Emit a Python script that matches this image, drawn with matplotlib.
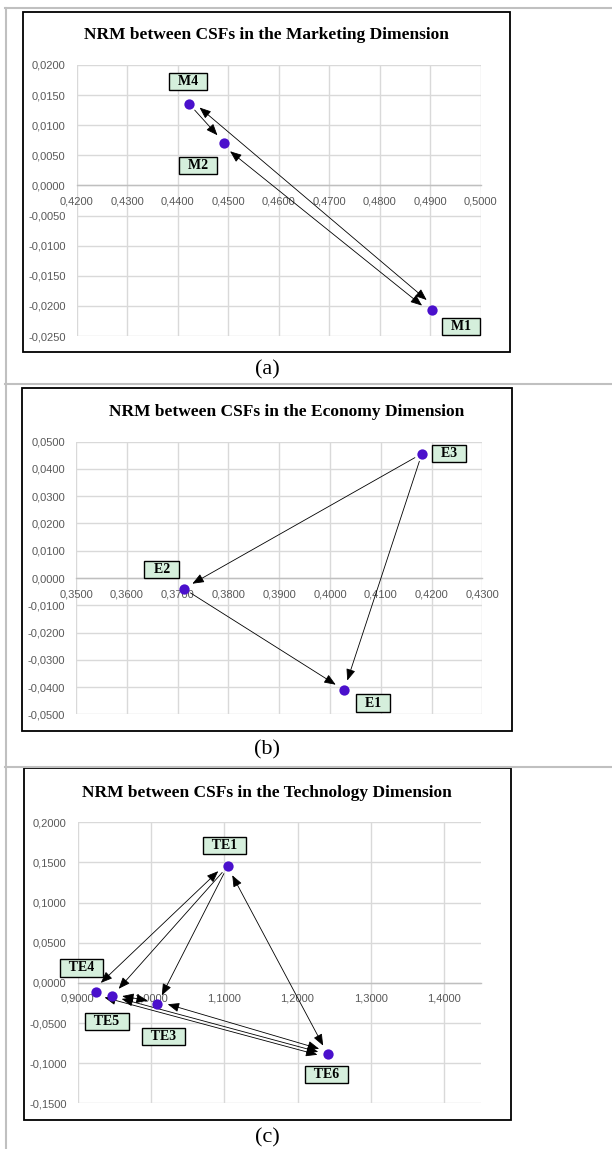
import matplotlib
matplotlib.use('Agg')
import matplotlib.pyplot as plt
from matplotlib.patches import Rectangle, FancyArrowPatch
from matplotlib.lines import Line2D
from matplotlib.ticker import FuncFormatter, MultipleLocator
import numpy as np

# Coordonnées (R-D, D+R) des facteurs critiques pour chaque dimension
m_labels = ['M1', 'M2', 'M4']
m_x = [0.4903, 0.4492, 0.4423]
m_y = [-0.0206, 0.0071, 0.0135]
m_links = [('M4', 'M2', False), ('M4', 'M1', True), ('M2', 'M1', True)]

e_labels = ['E1', 'E2', 'E3']
e_x = [0.4028, 0.3712, 0.4181]
e_y = [-0.0411, -0.0039, 0.0456]
e_links = [('E3', 'E2', False), ('E3', 'E1', False), ('E2', 'E1', False)]

te_labels = ['TE1', 'TE3', 'TE4', 'TE5', 'TE6']
te_x = [1.1045, 1.0086, 0.9245, 0.9468, 1.2414]
te_y = [0.1450, -0.0267, -0.0113, -0.0167, -0.0892]
te_links = [('TE4', 'TE1', True), ('TE1', 'TE5', False), ('TE1', 'TE3', False),
            ('TE6', 'TE1', True), ('TE5', 'TE3', True), ('TE3', 'TE6', True),
            ('TE5', 'TE6', True), ('TE4', 'TE6', True)]

W, H = 612, 1149
fig = plt.figure(figsize=(W / 100, H / 100), dpi=100)

SERIF = 'Liberation Serif'
TICKFONT = 'Liberation Sans'
PURPLE = '#4a10cc'


def fbox(x0, y0, x1, y1):
    return [x0 / W, 1 - y1 / H, (x1 - x0) / W, (y1 - y0) / H]


def fline(xs, ys, **kw):
    fig.add_artist(Line2D([x / W for x in xs], [1 - y / H for y in ys], **kw))


def comma(v, pos):
    if abs(v) < 1e-12:
        v = 0.0
    return f"{v:.4f}".replace('.', ',')


def draw_link(ax, pts, a, b, both, off=0.0, sa=8.0, sb=10.0):
    pa = ax.transData.transform(pts[a])
    pb = ax.transData.transform(pts[b])
    d = pb - pa
    u = d / np.hypot(*d)
    n = np.array([u[1], -u[0]])
    p0 = pa + u * (sb if both else sa) + n * off
    p1 = pb - u * sb + n * off
    inv = ax.transData.inverted()
    style = '<|-|>' if both else '-|>'
    arr = FancyArrowPatch(inv.transform(p0), inv.transform(p1),
                          arrowstyle=style + ',head_length=0.7,head_width=0.28',
                          mutation_scale=10, lw=0.6, color='black',
                          shrinkA=0, shrinkB=0, zorder=3)
    ax.add_patch(arr)


def panel(frame, area, title, title_xy, labels, xs, ys, links,
          xlim, ylim, xstep, ystep, xticks_max, label_off, link_off):
    fig.add_artist(Rectangle((frame[0] / W, 1 - frame[3] / H),
                             (frame[2] - frame[0]) / W, (frame[3] - frame[1]) / H,
                             transform=fig.transFigure, fill=False,
                             edgecolor='black', lw=1.3))
    fig.text(title_xy[0] / W, 1 - title_xy[1] / H, title, ha='center', va='center',
             family=SERIF, weight='bold', fontsize=12.5)

    ax = fig.add_axes(fbox(*area))
    ax.set_xlim(*xlim)
    ax.set_ylim(*ylim)
    ax.xaxis.set_major_locator(MultipleLocator(xstep))
    ax.yaxis.set_major_locator(MultipleLocator(ystep))
    ax.xaxis.set_major_formatter(FuncFormatter(
        lambda v, p: comma(v, p) if v <= xticks_max + 1e-9 else ''))
    ax.yaxis.set_major_formatter(FuncFormatter(comma))
    ax.grid(True, color='#d9d9d9', lw=1.0, zorder=0)
    ax.set_axisbelow(True)
    for s in ['top', 'right', 'left']:
        ax.spines[s].set_visible(False)
    ax.spines['bottom'].set_position(('data', 0))
    ax.spines['bottom'].set_color('#bfbfbf')
    ax.spines['bottom'].set_linewidth(1.0)
    ax.tick_params(length=0, colors='#595959', labelsize=8)
    ax.tick_params(axis='x', pad=8)
    ax.tick_params(axis='y', pad=8)
    for t in ax.get_xticklabels() + ax.get_yticklabels():
        t.set_family(TICKFONT)

    pts = {lab: (x, y) for lab, x, y in zip(labels, xs, ys)}
    for (a, b, both), off in zip(links, link_off):
        draw_link(ax, pts, a, b, both, off)
    ax.scatter(xs, ys, s=55, color=PURPLE, zorder=4, linewidths=0)
    for lab, x, y in zip(labels, xs, ys):
        dx, dy = label_off[lab]
        ax.annotate('  ' + lab + '  ', (x, y), xytext=(dx, -dy),
                    textcoords='offset pixels', ha='center', va='center',
                    family=SERIF, weight='bold', fontsize=10, zorder=5,
                    bbox=dict(boxstyle='square,pad=0.15', fc='#d5efdc',
                              ec='black', lw=1.0))
    return ax


panel((23, 12, 510, 352), (76.7, 65, 480.7, 336),
      'NRM between CSFs in the Marketing Dimension', (266, 35),
      m_labels, m_x, m_y, m_links, (0.42, 0.50), (-0.025, 0.02), 0.01, 0.005, 0.50,
      {'M4': (-1, -23), 'M2': (-26, 23), 'M1': (29, 17)},
      [0, -4, 3])

panel((22, 388, 512, 731), (76, 441.7, 482.3, 714.3),
      'NRM between CSFs in the Economy Dimension', (287, 412),
      e_labels, e_x, e_y, e_links, (0.35, 0.43), (-0.05, 0.05), 0.01, 0.01, 0.43,
      {'E3': (27, 0), 'E2': (-22, -19), 'E1': (29, 13)},
      [0, 0, 0])

panel((24, 768, 511, 1120), (77.7, 822.3, 480.7, 1103.3),
      'NRM between CSFs in the Technology Dimension', (267, 793),
      te_labels, te_x, te_y, te_links, (0.9, 1.45), (-0.15, 0.2), 0.1, 0.05, 1.4,
      {'TE1': (-3, -21), 'TE4': (-14, -24), 'TE5': (-5, 25), 'TE3': (6, 32),
       'TE6': (-1, 20)},
      [-3, 0, 0, 0, -2, -3, 0, 3])

# légendes (a), (b), (c)
captions = [('(a)', 370), ('(b)', 750), ('(c)', 1138)]
for cap, cy in captions:
    fig.text(267 / W, 1 - cy / H, cap, ha='center', va='center',
             family=SERIF, fontsize=16)

# lignes grises du tableau
gray = dict(color='#c0c0c0', lw=1.5)
fline([5, 612], [8, 8], **gray)
fline([5, 612], [384, 384], **gray)
fline([5, 612], [767, 767], **gray)
fline([6, 6], [8, 1149], **gray)

fig.savefig('out.png', dpi=100)
